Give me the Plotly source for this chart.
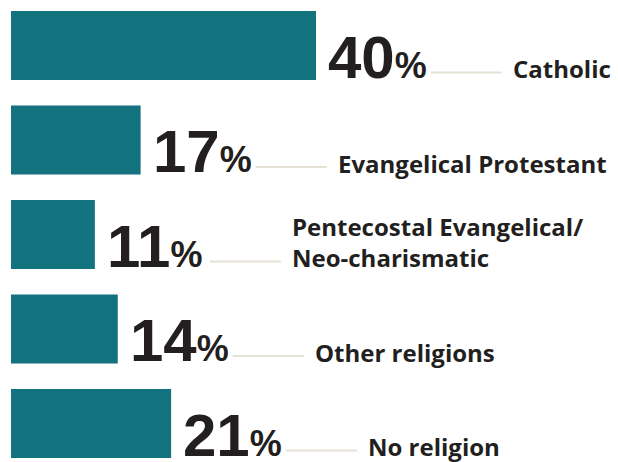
import plotly.graph_objects as go

# ---- data ----
categories = ["Catholic", "Evangelical Protestant", "Pentecostal Evangelical/Neo-charismatic",
              "Other religions", "No religion"]
values = [40, 17, 11, 14, 21]

# ---- style ----
BAR_COLOR = "#12737f"
TEXT_COLOR = "#231f20"
LINE_COLOR = "#e6e2d3"
NUM_FONT = "Liberation Sans, Arial, sans-serif"
LABEL_FONT = "Open Sans, Noto Sans, sans-serif"
NUM_SIZE = 60
PCT_SIZE = 36
LABEL_SIZE = 24

ypos = list(range(len(categories)))

fig = go.Figure()
fig.add_trace(go.Bar(
    x=values, y=ypos, orientation="h",
    marker=dict(color=BAR_COLOR, line=dict(width=0)),
    width=0.73, hoverinfo="skip",
))

annotations = []
shapes = []
for v, yy, cat in zip(values, ypos, categories):
    annotations.append(dict(
        x=v, y=yy, xref="x", yref="y", xanchor="left", yanchor="bottom",
        xshift=10, yshift=-(34.5 + 0.212 * NUM_SIZE), showarrow=False,
        text=f"{v}<span style='font-size:{PCT_SIZE}px'>%</span>",
        font=dict(family=NUM_FONT, size=NUM_SIZE, color=TEXT_COLOR, weight="bold"),
    ))
    label = cat.replace("/", "/<br>")
    annotations.append(dict(
        x=v, y=yy, xref="x", yref="y", xanchor="left", yanchor="bottom",
        xshift=195, yshift=-(34.5 + 0.293 * LABEL_SIZE), showarrow=False,
        text=label, align="left",
        font=dict(family=LABEL_FONT, size=LABEL_SIZE, color=TEXT_COLOR, weight="bold"),
    ))
    shapes.append(dict(
        type="line", xref="x", yref="y",
        xsizemode="pixel", xanchor=v, x0=115, x1=186,
        ysizemode="pixel", yanchor=yy, y0=-27, y1=-27,
        line=dict(color=LINE_COLOR, width=2),
    ))

px_per_unit_x = 305 / 40
plot_w = 618 - 11
fig.update_layout(
    width=618, height=462,
    margin=dict(l=11, r=0, t=0, b=0),
    paper_bgcolor="white", plot_bgcolor="white",
    showlegend=False,
    xaxis=dict(range=[0, plot_w / px_per_unit_x], visible=False, fixedrange=True),
    yaxis=dict(range=[4 + 38.5 / 94.5, -45.5 / 94.5], visible=False, fixedrange=True),
    annotations=annotations, shapes=shapes,
)

fig.write_html("out.html", config={"displayModeBar": False},
               post_script="document.body.style.margin='0';")
